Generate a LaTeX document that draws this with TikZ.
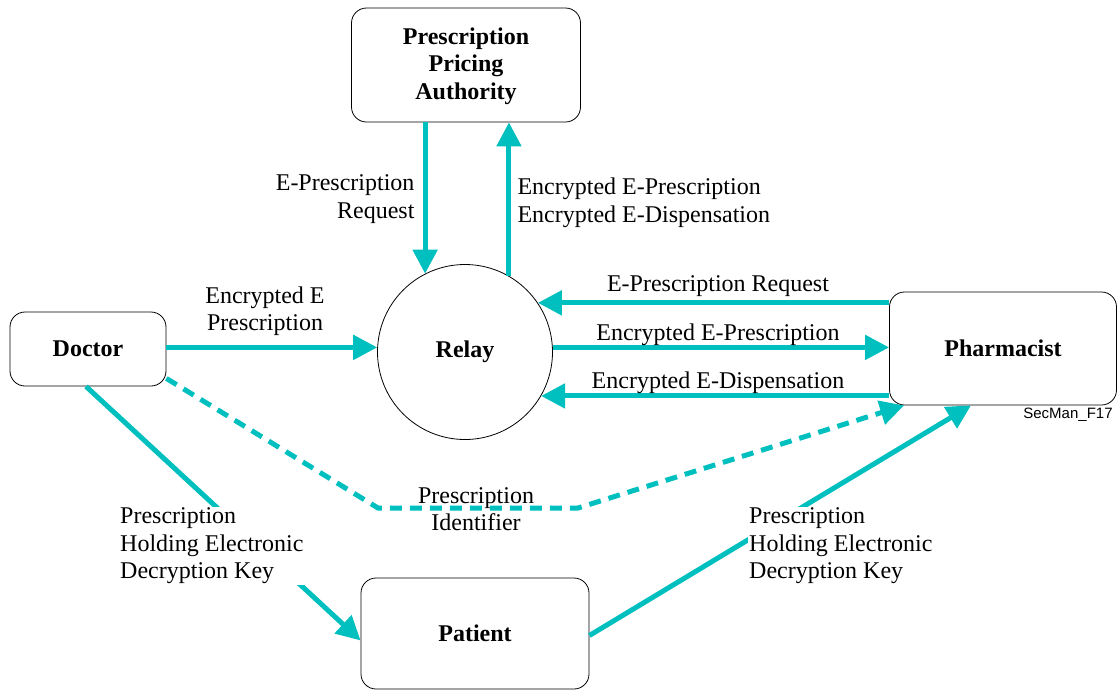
\documentclass[tikz,border=0pt]{standalone}
\usepackage{fontspec}
\setmainfont{Liberation Serif}
\newfontfamily\tagfont{Liberation Sans}
\usetikzlibrary{arrows.meta,calc}
\definecolor{flowcyan}{RGB}{0,191,191}

\begin{document}
\begin{tikzpicture}[x=1pt, y=-1pt,
  every node/.style={font=\fontsize{24}{27.5}\selectfont},
  party/.style={draw, line width=0.8pt, rounded corners=15pt, align=center,
    font=\fontsize{24}{27.5}\selectfont\bfseries},
  flow/.style={draw=flowcyan, line width=5pt, -{Triangle[length=24pt,width=24pt]}},
  hint/.style={draw=flowcyan, line width=5pt, dash pattern=on 12pt off 8pt,
    -{Triangle[length=24pt,width=24pt]}},
  note/.style={align=left, fill=white, inner sep=1pt}]
  \useasboundingbox (0,0) rectangle (1119,691);

  % Parties
  \node[party, minimum width=229pt, minimum height=114pt, text depth=3pt] (ppa) at (466,65)
    {Prescription\\Pricing\\Authority};
  \node[party, minimum width=156pt, minimum height=74pt] (doctor) at (88,349) {Doctor};
  \node[draw, line width=0.8pt, circle, minimum size=175pt,
    font=\fontsize{24}{27.5}\selectfont\bfseries] (relay) at (465,352) {Relay};
  \node[party, minimum width=227pt, minimum height=113pt] (pharm) at (1003,348.5) {Pharmacist};
  \node[party, minimum width=228pt, minimum height=111pt] (patient) at (475,633.5) {Patient};

  % Relay and pricing authority
  \draw[flow] (ppa.south -| relay.117) -- (relay.117);
  \draw[flow] (relay.60) -- (relay.60 |- ppa.south);
  \node[anchor=east, align=right] (asktxt) at (418,199) {E-Prescription\\Request};
  \node[anchor=west, align=left] (sendtxt) at (514,203)
    {Encrypted E-Prescription\\Encrypted E-Dispensation};

  % Doctor to relay
  \draw[flow] (doctor.east |- relay.177) -- (relay.177);
  \node[align=center] (enctxt) at (265,311) {Encrypted E\\Prescription};

  % Relay and pharmacist
  \draw[flow] (pharm.west |- relay.34) -- (relay.34);
  \draw[flow] (relay.3) -- (pharm.west |- relay.3);
  \draw[flow] (pharm.west |- relay.-30) -- (relay.-30);
  \node (reqtxt) at (718,286) {E-Prescription Request};
  \node (prestxt) at (718,335) {Encrypted E-Prescription};
  \node (disptxt) at (718,383) {Encrypted E-Dispensation};

  % Identifier path
  \coordinate (bendA) at (378,508);
  \coordinate (bendB) at (578,508);
  \draw[hint] ($(doctor.south east)+(0,-8)$) -- (bendA) -- (bendB)
    -- ($(pharm.south west)+(15,0)$);
  \node[align=center] (idtxt) at (476,509) {Prescription\\Identifier};

  % Decryption key via patient
  \draw[flow] ($(doctor.south)+(-2,0)$) -- ($(patient.west)+(0,7)$);
  \draw[flow] ($(patient.east)+(0,2)$) -- ($(pharm.south)+(-32,0)$);
  \node[note, anchor=west] (keyl) at (119,546)
    {Prescription\\Holding Electronic\\Decryption Key};
  \node[note, anchor=west] (keyr) at (748,546)
    {Prescription\\Holding Electronic\\Decryption Key};

  \node[font=\tagfont\fontsize{15}{18}\selectfont] (tag) at (1068,415) {SecMan\_F17};
\end{tikzpicture}
\end{document}
